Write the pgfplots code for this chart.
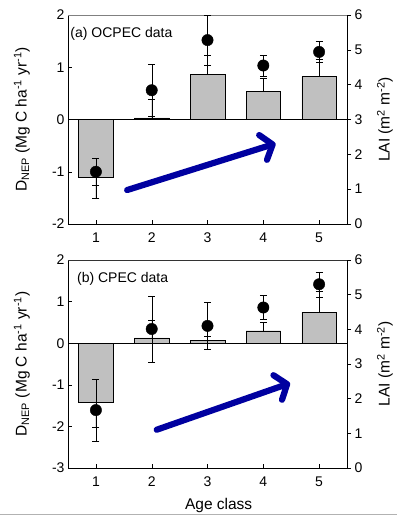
\documentclass[border=0pt]{standalone}
\usepackage{fontspec}
\setmainfont{Liberation Sans}
\usepackage{pgfplots}
\usepackage{pgfplotstable}
\pgfplotsset{compat=1.18}
\usetikzlibrary{arrows.meta}
\definecolor{barg}{RGB}{192,192,192}
\definecolor{arrowblue}{RGB}{0,0,160}

\pgfplotstableread{
x y ep em
1 -1.10 0 0.40
2 0.03 0.36 0
3 0.86 0.38 0
4 0.54 0.26 0
5 0.82 0.33 0
}\barsA
\pgfplotstableread{
x y e
1 1.50 0.38
2 3.84 0.75
3 5.28 0.71
4 4.55 0.30
5 4.94 0.30
}\dotsA
\pgfplotstableread{
x y ep em
1 -1.41 0 0.61
2 0.13 0.43 0
3 0.07 0.10 0
4 0.30 0.20 0
5 0.75 0.49 0
}\barsB
\pgfplotstableread{
x y e
1 1.67 0.89
2 4.01 0.96
3 4.10 0.67
4 4.63 0.35
5 5.30 0.36
}\dotsB

\tikzset{
  bigarrow/.style={arrowblue, line width=6.2pt, line cap=round,
    -{Straight Barb[length=10pt, width=26pt, round]}},
}

\pgfplotsset{
  panel/.style={scale only axis, width=279pt, xmin=0.5, xmax=5.5, xtick={1,...,5},
    /pgf/number format/assume math mode=true,
    tick label style={font=\fontsize{14}{16}\selectfont},
    label style={font=\fontsize{15.5}{18}\selectfont},
    tick style={black, thin}, major tick length=4pt,
    axis line style={black, thin},
    xticklabel style={yshift=-5pt},
  },
  leftax/.style={panel, axis x line*=bottom, axis y line*=left, tick align=inside,
    ylabel style={at={(axis description cs:-0.165,0.5)}, anchor=center, rotate=0},
    ylabel={D\textsubscript{NEP} (Mg C ha\textsuperscript{-1} yr\textsuperscript{-1})},
  },
  rightax/.style={panel, axis x line=none, axis y line*=right, tick align=outside,
    ymin=0, ymax=6, ytick={0,...,6},
    ylabel style={at={(axis description cs:1.136,0.5)}, anchor=center, rotate=0},
    ylabel={LAI (m\textsuperscript{2} m\textsuperscript{-2})},
  },
  barplot/.style={ybar, bar width=0.62, fill=barg, draw=black, thin,
    error bars/.cd, y dir=both, y explicit,
    error bar style={black, thin},
    error mark options={rotate=90, mark size=3.5pt, black, thin}},
  dotplot/.style={only marks, mark=*, mark size=5.7pt, black,
    error bars/.cd, y dir=both, y explicit,
    error bar style={black, thin},
    error mark options={rotate=90, mark size=3.5pt, black, thin}},
}

\begin{document}
\begin{tikzpicture}
\path[use as bounding box] (0,0) rectangle (397pt,-516pt);

% ---------- top panel ----------
\begin{axis}[leftax, height=209pt, at={(68pt,-224pt)}, anchor=south west,
  ymin=-2, ymax=2, ytick={-2,...,2}]
  \addplot[barplot] table[x=x, y=y, y error plus=ep, y error minus=em]{\barsA};
  \draw[black, thin] (axis cs:0.5,0) -- (axis cs:5.5,0);
  \draw[gray, thin] (rel axis cs:0,1) -- (rel axis cs:1,1);
  \draw[bigarrow] (axis cs:1.56,-1.35) -- (axis cs:4.22,-0.46);
  \node[anchor=north west, font=\fontsize{14}{16}\selectfont, inner sep=0pt]
    at (axis description cs:0.008,0.94) {(a) OCPEC data};
\end{axis}
\begin{axis}[rightax, height=209pt, at={(68pt,-224pt)}, anchor=south west]
  \addplot[dotplot] table[x=x, y=y, y error=e]{\dotsA};
\end{axis}

% ---------- bottom panel ----------
\begin{axis}[leftax, height=208pt, at={(68pt,-468pt)}, anchor=south west,
  ymin=-3, ymax=2, ytick={-3,...,2},
  xlabel={Age class},
  xlabel style={at={(axis description cs:0.54,-0.178)}, anchor=center}]
  \addplot[barplot] table[x=x, y=y, y error plus=ep, y error minus=em]{\barsB};
  \draw[black, thin] (axis cs:0.5,0) -- (axis cs:5.5,0);
  \draw[black!80, thin] (rel axis cs:0,1) -- (rel axis cs:1,1);
  \draw[bigarrow] (axis cs:2.09,-2.08) -- (axis cs:4.48,-0.96);
  \node[anchor=north west, font=\fontsize{14}{16}\selectfont, inner sep=0pt]
    at (axis description cs:0.032,0.94) {(b) CPEC data};
\end{axis}
\begin{axis}[rightax, height=208pt, at={(68pt,-468pt)}, anchor=south west]
  \addplot[dotplot] table[x=x, y=y, y error=e]{\dotsB};
\end{axis}

\draw[gray!60, thin] (0,-514pt) -- (397pt,-514pt);
\end{tikzpicture}
\end{document}
